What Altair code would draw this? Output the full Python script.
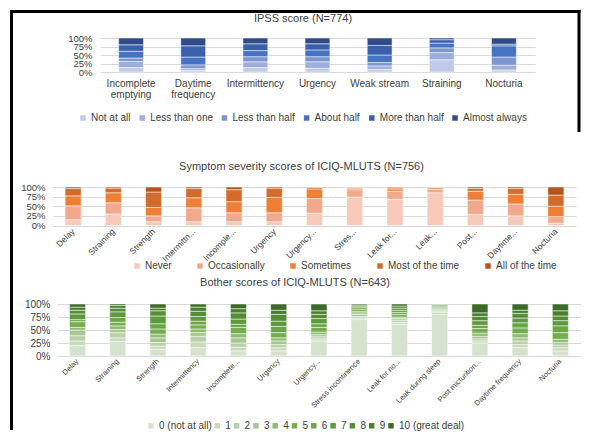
import altair as alt
import pandas as pd

FONT = "Liberation Sans"
TXT = "#404040"
GRID = "#D9D9D9"

# ---------------- IPSS ----------------
ipss_title = "IPSS score (N=774)"
ipss_cats = ["Incomplete emptying", "Daytime frequency", "Intermittency", "Urgency",
             "Weak stream", "Straining", "Nocturia"]
ipss_levels = ["Not at all", "Less than one", "Less than half", "About half",
               "More than half", "Almost always"]
ipss_colors = ["#BFCAE9", "#9DAEDC", "#7D95D1", "#4673C4", "#3A60AC", "#2F4C88"]
ipss_values = [
    [13, 18, 10, 20, 19, 20],
    [5, 5, 11, 23, 33, 23],
    [13, 17, 15, 18, 20, 17],
    [11, 19, 15, 20, 18, 17],
    [8, 10, 10, 22, 28, 22],
    [36, 21, 14, 14, 10, 5],
    [6, 14, 24, 33, 5, 18],
]

# ---------------- Severity ----------------
sev_title = "Symptom severity scores of ICIQ-MLUTS (N=756)"
sev_cats = ["Delay", "Straining", "Strength", "Intermittn...", "Incomple...", "Urgency",
            "Urgency...", "Stres...", "Leak for...", "Leak...", "Post...", "Daytime...",
            "Nocturia"]
sev_levels = ["Never", "Occasionally", "Sometimes", "Most of the time", "All of the time"]
sev_colors = ["#F6C9B8", "#F2A88A", "#EF7F35", "#D46B2A", "#B3561E"]
sev_values = [
    [15, 36, 26, 19, 4],
    [30, 29, 26, 12, 3],
    [10, 15, 22, 40, 13],
    [10, 36, 26, 24, 4],
    [10, 23, 29, 31, 7],
    [10, 23, 40, 24, 3],
    [32, 38, 25, 4, 1],
    [74, 19, 4, 2, 1],
    [68, 21, 6, 3, 2],
    [85, 9, 4, 1, 1],
    [29, 37, 23, 7, 4],
    [25, 31, 25, 15, 4],
    [6, 17, 27, 29, 21],
]

# ---------------- Bother ----------------
bot_title = "Bother scores of ICIQ-MLUTS (N=643)"
bot_cats = ["Delay", "Straining", "Strength", "Intermittency", "Incomplete...", "Urgency",
            "Urgency...", "Stress incontinence", "Leak for no...", "Leak during sleep",
            "Post micturition...", "Daytime frequency", "Nocturia"]
bot_levels = ["0 (not at all)", "1", "2", "3", "4", "5", "6", "7", "8", "9", "10 (great deal)"]
bot_colors = ["#D5E2CD", "#C8DABC", "#B9D1A9", "#A6C793", "#8FBB72", "#74AE4E",
              "#69A644", "#5E9A3C", "#548D36", "#4A7F30", "#3F6B28"]
bot_values = [
    [20, 9, 10, 11, 5, 11, 4, 11, 7, 6, 6],
    [28, 7, 10, 6, 7, 7, 9, 11, 7, 5, 3],
    [13, 6, 7, 9, 7, 10, 10, 15, 10, 5, 8],
    [16, 11, 11, 7, 7, 8, 7, 9, 10, 8, 6],
    [10, 7, 8, 10, 8, 12, 6, 10, 12, 8, 9],
    [10, 6, 6, 7, 6, 10, 12, 10, 13, 8, 12],
    [29, 4, 4, 4, 5, 9, 7, 10, 8, 7, 13],
    [70, 3, 3, 4, 3, 3, 4, 3, 3, 2, 2],
    [61, 4, 4, 3, 3, 5, 4, 4, 4, 4, 4],
    [80, 4, 2, 2, 2, 2, 2, 2, 2, 1, 1],
    [25, 4, 4, 5, 6, 9, 6, 9, 8, 7, 17],
    [16, 6, 7, 6, 8, 11, 10, 9, 9, 6, 12],
    [10, 6, 5, 5, 6, 13, 13, 10, 9, 10, 13],
]


def long_df(cats, levels, values):
    rows = []
    for c, vals in zip(cats, values):
        for i, (lvl, v) in enumerate(zip(levels, vals)):
            rows.append({"cat": c, "level": lvl, "idx": i, "pct": v})
    return pd.DataFrame(rows)


def panel(cats, levels, values, colors, view_w, view_h, xrange, yrange,
          xaxis, y_offset, y_labelpad, y_fontsize, legend_x, legend_y, col_pad,
          title, title_x, title_y):
    df = long_df(cats, levels, values)
    bars = alt.Chart(df).mark_bar(stroke="white", strokeWidth=0.5).encode(
        x=alt.X("cat:N", sort=cats,
                scale=alt.Scale(range=xrange, paddingInner=0.6, paddingOuter=0.3),
                axis=xaxis),
        y=alt.Y("pct:Q", stack="normalize",
                scale=alt.Scale(domain=[0, 1], range=yrange, nice=False),
                axis=alt.Axis(title=None, values=[0, 0.25, 0.5, 0.75, 1], format=".0%",
                              grid=True, gridColor=GRID, gridWidth=1, domain=False,
                              ticks=False, tickSize=0, labelPadding=y_labelpad,
                              offset=y_offset, labelFont=FONT, labelFontSize=y_fontsize,
                              labelColor=TXT, labelOverlap=False, labelFlush=False)),
        color=alt.Color("level:N", scale=alt.Scale(domain=levels, range=colors),
                        legend=alt.Legend(title=None, orient="none", legendX=legend_x,
                                          legendY=legend_y, direction="horizontal",
                                          columns=len(levels), symbolType="square",
                                          symbolSize=30, symbolStrokeWidth=0,
                                          labelFont=FONT, labelFontSize=10,
                                          labelColor=TXT, labelOffset=3,
                                          columnPadding=col_pad, padding=0)),
        order=alt.Order("idx:Q", sort="ascending"),
    )
    ttl = alt.Chart(pd.DataFrame({"t": [title]})).mark_text(
        font=FONT, fontSize=11, color=TXT, align="center", baseline="middle"
    ).encode(text="t:N", x=alt.value(title_x), y=alt.value(title_y))
    return [bars, ttl], view_w, view_h


one = pd.DataFrame({"a": [0]})

x1 = alt.Axis(title=None, labelAngle=0, labelFont=FONT, labelFontSize=10, labelColor=TXT,
              labelPadding=6, ticks=False, domain=False, grid=False, labelBaseline="top",
              labelAlign="center", labelLineHeight=11,
              labelExpr="datum.label == 'Incomplete emptying' ? ['Incomplete', 'emptying'] : "
                        "datum.label == 'Daytime frequency' ? ['Daytime', 'frequency'] : datum.label")
x2 = alt.Axis(title=None, labelAngle=315, labelFont=FONT, labelFontSize=8.5, labelColor=TXT,
              labelPadding=4, ticks=False, domain=False, grid=False, labelBaseline="middle",
              labelAlign="right")
x3 = alt.Axis(title=None, labelAngle=315, labelFont=FONT, labelFontSize=7.5, labelColor=TXT,
              labelPadding=4, ticks=False, domain=False, grid=False, labelBaseline="middle",
              labelAlign="right")

l1, w1, h1 = panel(ipss_cats, ipss_levels, ipss_values, ipss_colors, 482, 34, [47, 482], [34, 0],
                   x1, -39, 0, 9.5, 25, 75, 6.2, ipss_title, 250, -19)
border = [
    alt.Chart(one).mark_rule(color="black", strokeWidth=3).encode(
        x=alt.value(-43), x2=alt.value(527.5), y=alt.value(-26.5)),
    alt.Chart(one).mark_rule(color="black", strokeWidth=3).encode(
        x=alt.value(-41.5), y=alt.value(-28), y2=alt.value(392)),
    alt.Chart(one).mark_rule(color="black", strokeWidth=3).encode(
        x=alt.value(526), y=alt.value(-28), y2=alt.value(94)),
]
p1 = alt.layer(*(l1 + border)).properties(width=w1, height=h1)

l2, w2, h2 = panel(sev_cats, sev_levels, sev_values, sev_colors, 523, 153.5, [0, 523], [153.5, 115],
                   x2, 0, 8, 9.5, 79, 189, 23, sev_title, 248.5, 94.5)
p2 = alt.layer(*l2).properties(width=w2, height=h2)

l3, w3, h3 = panel(bot_cats, bot_levels, bot_values, bot_colors, 527.5, 130, [4.4, 527.5], [130, 78],
                   x3, 0, 3, 10, 93, 194.8, 0.3, bot_title, 242, 57.2)
p3 = alt.layer(*l3).properties(width=w3, height=h3)

chart = alt.vconcat(p1, p2, p3, spacing=0, bounds="flush").resolve_scale(
    x="independent", y="independent", color="independent"
).properties(padding=0, background="white").configure_view(strokeWidth=0)

chart.save("out.html", embed_options={"renderer": "svg", "actions": False})
